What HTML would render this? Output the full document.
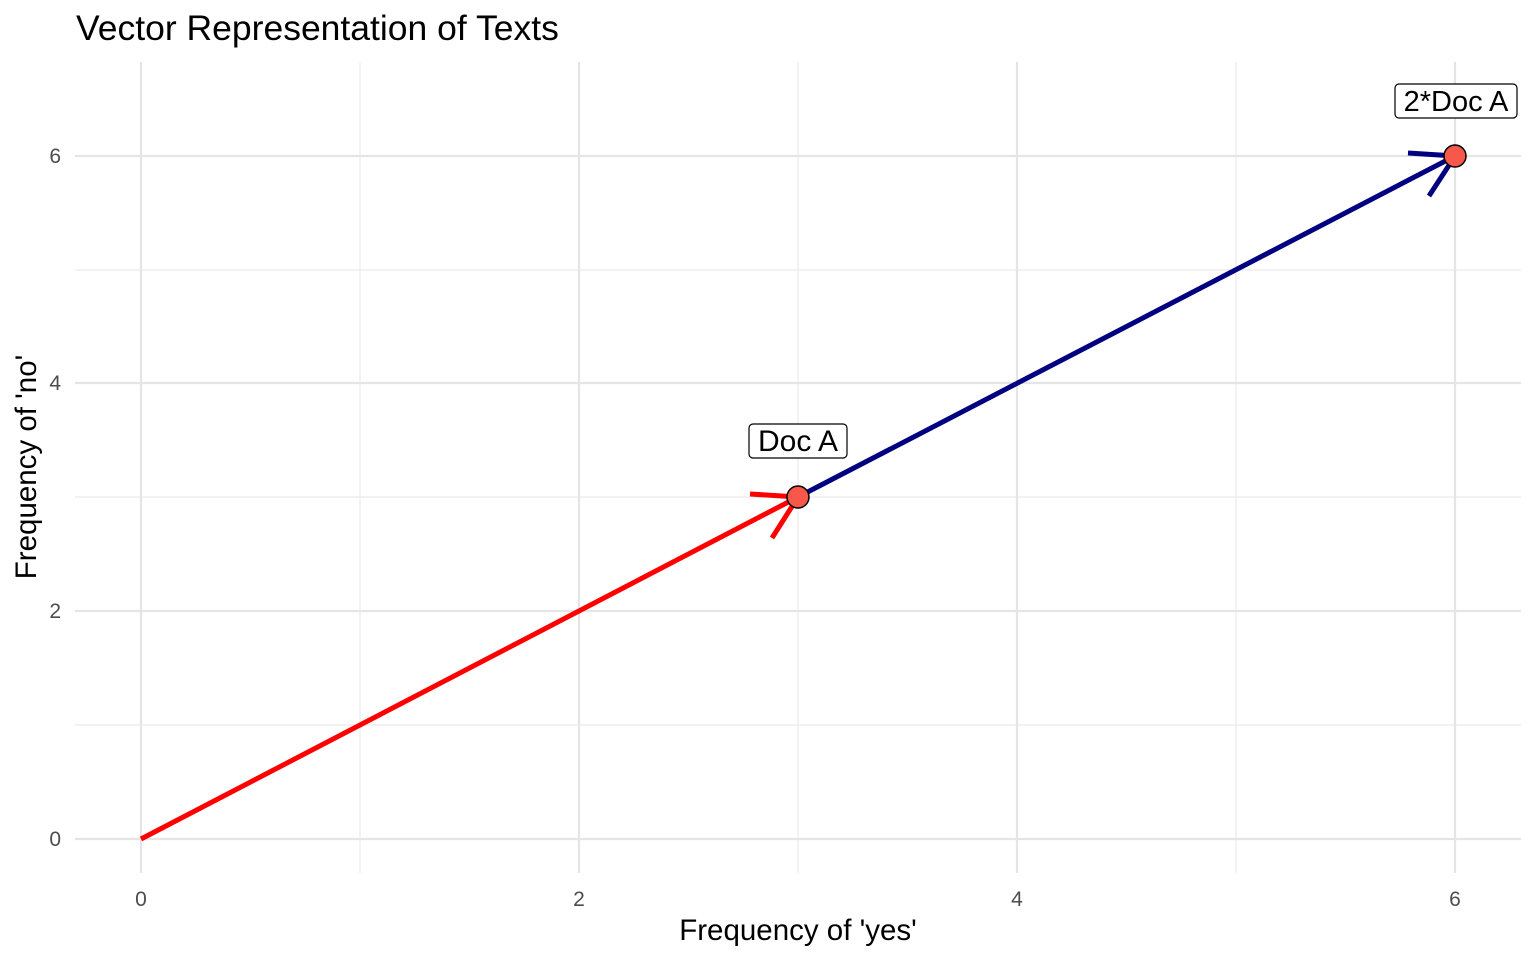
<!DOCTYPE html>
<html><head><meta charset="utf-8"><style>body{margin:0;background:#fff}svg{display:block}</style></head>
<body>
<svg width="1536" height="960" xmlns="http://www.w3.org/2000/svg" font-family="Liberation Sans, Arial, sans-serif">
<rect width="1536" height="960" fill="#fff"/>
<g stroke="#ebebeb" stroke-width="1.2">
<line x1="360" y1="62" x2="360" y2="873"/><line x1="798" y1="62" x2="798" y2="873"/><line x1="1236" y1="62" x2="1236" y2="873"/>
<line x1="75" y1="725" x2="1521" y2="725"/><line x1="75" y1="497" x2="1521" y2="497"/><line x1="75" y1="270" x2="1521" y2="270"/>
</g>
<g stroke="#e5e5e5" stroke-width="2.2">
<line x1="141" y1="62" x2="141" y2="873"/><line x1="579" y1="62" x2="579" y2="873"/><line x1="1017" y1="62" x2="1017" y2="873"/><line x1="1455" y1="62" x2="1455" y2="873"/>
<line x1="75" y1="839" x2="1521" y2="839"/><line x1="75" y1="611" x2="1521" y2="611"/><line x1="75" y1="383" x2="1521" y2="383"/><line x1="75" y1="156" x2="1521" y2="156"/>
</g>
<g fill="#4d4d4d" font-size="21" text-anchor="middle">
<text x="141" y="906">0</text><text x="579" y="906">2</text><text x="1017" y="906">4</text><text x="1455" y="906">6</text>
</g>
<g fill="#4d4d4d" font-size="21" text-anchor="end">
<text x="61" y="846">0</text><text x="61" y="618">2</text><text x="61" y="390">4</text><text x="61" y="163">6</text>
</g>
<g stroke-width="5" stroke-linecap="butt" fill="none">
<line x1="141" y1="839" x2="798" y2="497" stroke="#ff0000"/>
<polyline points="750,494 798,497 772,538" stroke="#ff0000"/>
<line x1="798" y1="497" x2="1455" y2="156" stroke="#000080"/>
<polyline points="1408,153 1455,156 1429,196" stroke="#000080"/>
</g>
<circle cx="798" cy="497" r="11" fill="#f8584a" stroke="#000" stroke-width="1.5"/>
<circle cx="1455" cy="156" r="11" fill="#f8584a" stroke="#000" stroke-width="1.5"/>
<rect x="749" y="424" width="98" height="34" rx="4" fill="#fff" stroke="#000" stroke-width="1.2"/>
<text x="798" y="451" font-size="30" text-anchor="middle">Doc A</text>
<rect x="1395" y="84" width="122" height="34" rx="4" fill="#fff" stroke="#000" stroke-width="1.2"/>
<text x="1456" y="111" font-size="29" text-anchor="middle">2*Doc A</text>
<text x="76" y="40" font-size="35.5">Vector Representation of Texts</text>
<text x="798" y="940" font-size="29.5" text-anchor="middle">Frequency of 'yes'</text>
<text transform="translate(36,467) rotate(-90)" font-size="29.5" text-anchor="middle">Frequency of 'no'</text>
</svg>
</body></html>
